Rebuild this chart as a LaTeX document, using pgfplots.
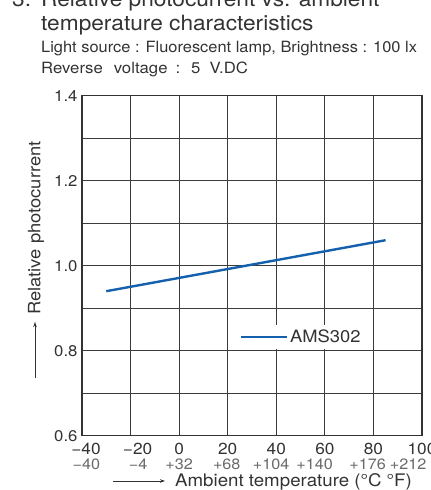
\documentclass[border=0pt]{standalone}
\usepackage{pgfplots}
\pgfplotsset{compat=1.18}
\usepackage{fontspec}
\setmainfont{TeX Gyre Heros}[FakeStretch=1.08]
\usetikzlibrary{arrows.meta}
\definecolor{lineblue}{HTML}{1560AC}
\definecolor{gridc}{HTML}{3C3C3C}
\definecolor{fgray}{HTML}{6A6A6A}
\definecolor{txt}{HTML}{333333}
\begin{document}
\begin{tikzpicture}[x=1pt,y=1pt]
\begin{axis}[
  at={(0,0)}, anchor=south west,
  scale only axis, width=340pt, height=340pt,
  clip=false,
  xmin=-40, xmax=100, ymin=0.6, ymax=1.4,
  xtick={-40,-20,0,20,40,60,80,100},
  xticklabels={\hspace{8pt}−40,\hspace{14pt}−20,0,20,40,60,80,100},
  ytick={0.6,0.8,1.0,1.2,1.4},
  yticklabels={0.6,0.8,1.0,1.2,1.4},
  minor ytick={0.7,0.9,1.1,1.3},
  grid=both,
  major grid style={gridc, line width=0.9pt},
  minor grid style={gridc, line width=0.9pt},
  major tick length=0pt, minor tick length=0pt,
  axis line style={txt, line width=1.4pt},
  tick label style={font=\fontsize{16}{16}\selectfont, text=txt},
  xticklabel style={inner sep=0pt, yshift=-7.3pt},
  yticklabel style={xshift=-1pt, font=\fontsize{15.5}{16}\selectfont},
  legend style={at={(axis cs:50.2,0.832)}, anchor=center, draw=none, fill=white,
    font=\fontsize{17}{17}\selectfont, text=txt, inner sep=3pt},
  legend cell align=left,
  legend image code/.code={\draw[#1] (0pt,0pt) -- (46pt,0pt);},
]
\addplot[lineblue, line width=2.4pt] coordinates {(-30,0.94) (85,1.06)};
\addlegendentry{AMS302}
% Fahrenheit row
\begin{scope}[every node/.style={font=\fontsize{15}{15}\selectfont, text=fgray, anchor=base, inner sep=0pt, yshift=-34pt}]
\node at (axis cs:-38.2,0.6) {−40};
\node at (axis cs:-16.9,0.6) {−4};
\node at (axis cs:0,0.6) {+32};
\node at (axis cs:19.6,0.6) {+68};
\node at (axis cs:37.9,0.6) {+104};
\node at (axis cs:55.8,0.6) {+140};
\node at (axis cs:77.6,0.6) {+176};
\node at (axis cs:94.3,0.6) {+212};
\end{scope}
\end{axis}
% axis titles (image coords X,Y -> (X-82, 435.7-Y))
\draw[txt, line width=0.8pt, -{Stealth[length=5pt,width=3.5pt]}] (31,-45.3) -- (83,-45.3);
\node[font=\fontsize{17.3}{17}\selectfont, text=txt, anchor=base west, inner sep=0pt] at (93,-50.3) {Ambient temperature (°C °F)};
\draw[txt, line width=0.8pt, -{Stealth[length=5pt,width=3.5pt]}] (-47,57.7) -- (-47,113.7);
\node[font=\fontsize{17}{17}\selectfont, text=txt, rotate=90, anchor=base west, inner sep=0pt] at (-41.5,120.7) {Relative photocurrent};
% titles
\node[font=\fontsize{21}{22}\selectfont, text=txt, anchor=base west, inner sep=0pt] at (-70,428.7) {3.};
\node[font=\fontsize{21}{22}\selectfont, text=txt, anchor=base west, inner sep=0pt] at (-41,428.7) {Relative photocurrent vs. ambient};
\node[font=\fontsize{21}{22}\selectfont, text=txt, anchor=base west, inner sep=0pt] at (-41,405.2) {temperature characteristics};
\node[font=\fontsize{15.5}{16}\selectfont, text=txt, anchor=base west, inner sep=0pt] at (-41,383.2) {\scalebox{0.98}[1]{Light source : Fluorescent lamp, Brightness : 100 lx}};
\node[font=\fontsize{15.5}{16}\selectfont, text=txt, anchor=base west, inner sep=0pt] at (-41,362.2) {Reverse\hspace{11pt}voltage\hspace{8pt}:\hspace{11pt}5\hspace{9pt}V.DC};
\pgfresetboundingbox
\useasboundingbox (-82,-54.3) rectangle (349,435.7);
\end{tikzpicture}
\end{document}
